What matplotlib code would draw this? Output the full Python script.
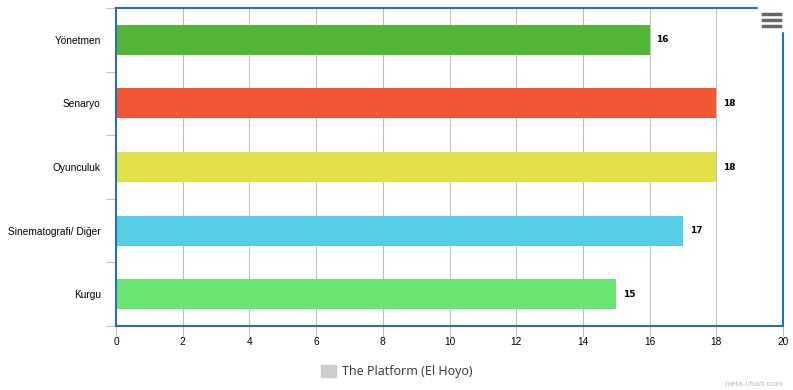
import matplotlib.pyplot as plt
from matplotlib.patches import Rectangle
from matplotlib.lines import Line2D

plt.rcParams['font.family'] = ['Liberation Sans', 'DejaVu Sans']

# Data
categories = ['Yönetmen', 'Senaryo', 'Oyunculuk', 'Sinematografi/ Diğer', 'Kurgu']
values = [16, 18, 18, 17, 15]
colors = ['#53b536', '#f15735', '#dfe04a', '#57cde4', '#69e672']
series_name = 'The Platform (El Hoyo)'

fig = plt.figure(figsize=(7.93, 3.9), dpi=100)
ax = fig.add_axes([116 / 793, 1 - 326 / 390, 667 / 793, 318 / 390])

pos = list(range(len(categories)))
bars = ax.barh(pos, values, height=0.47, color=colors, zorder=3)

for bar, v in zip(bars, values):
    ax.text(bar.get_width() + 0.2, bar.get_y() + bar.get_height() / 2, f'{v}',
            va='center', ha='left', fontsize=6.5, fontweight='bold', color='black',
            family='DejaVu Sans')

ax.set_xlim(0, 20)
ax.set_ylim(len(categories) - 0.5, -0.5)
ax.set_xticks(range(0, 21, 2))
ax.set_yticks(pos)
ax.set_yticklabels(categories, fontsize=7.3)
ax.tick_params(axis='x', labelsize=7.3, length=0, pad=8)
ax.tick_params(axis='y', length=0, pad=11)

# category boundary ticks on the left
for b in [i - 0.5 for i in range(len(categories) + 1)]:
    ax.plot([-0.3, 0], [b, b], color='#c0c0c0', lw=0.8, clip_on=False, zorder=1)
# small x tick marks below axis
for t in range(0, 21, 2):
    ax.plot([t, t], [len(categories) - 0.5, len(categories) - 0.5 + 0.15],
            color='#c0c0c0', lw=0.8, clip_on=False, zorder=1)

ax.xaxis.grid(True, color='#c0c0c0', lw=0.8, zorder=0)
for s in ax.spines.values():
    s.set_color('#2b6cb5')
    s.set_linewidth(1.5)
    s.set_zorder(4)

# legend
fig.patches.append(Rectangle((321 / 793, 1 - 377 / 390), 15 / 793, 12 / 390,
                             transform=fig.transFigure, color='#cccccc'))
fig.text(342 / 793, 1 - 371 / 390, series_name, fontsize=9, va='center',
         ha='left', color='#333333', family=['Open Sans', 'DejaVu Sans'])

# menu icon
fig.patches.append(Rectangle((758 / 793, 1 - 31 / 390), 26 / 793, 25 / 390,
                             transform=fig.transFigure, color='white', zorder=5))
for y in [14, 20, 26]:
    fig.lines.append(Line2D([763 / 793, 780 / 793], [1 - y / 390, 1 - y / 390],
                            transform=fig.transFigure, color='#666666', lw=2.5,
                            zorder=6))

fig.text(783 / 793, 1 - 384 / 390, 'meta-chart.com', fontsize=6, color='#bbbbbb',
         ha='right', va='center')

fig.savefig('out.png', dpi=100)
